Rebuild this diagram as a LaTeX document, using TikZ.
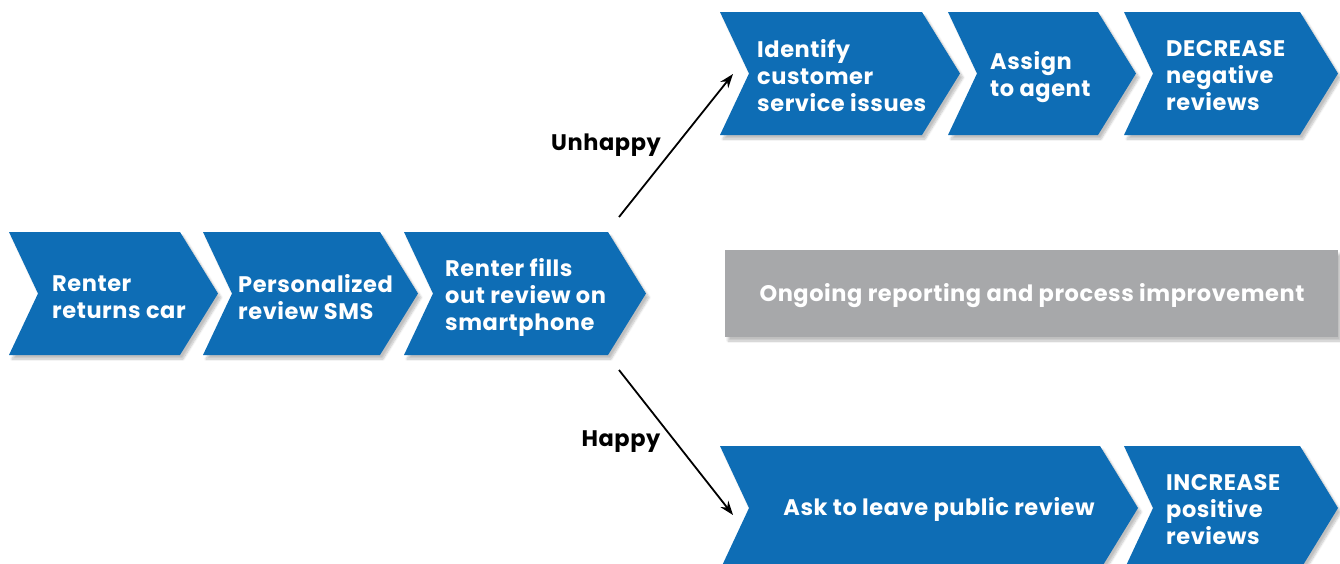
\documentclass[tikz,border=0pt]{standalone}
\usepackage{fontspec}
\setmainfont{Poppins}[LetterSpace=2.5]
\usetikzlibrary{arrows.meta,shadows.blur}
\definecolor{chevblue}{RGB}{14,109,181}
\definecolor{bargray}{RGB}{167,168,170}
\newcommand\mychev[4]{% x1 x2 ytop ybot
  \fill[chevblue,blur shadow={shadow xshift=3pt,shadow yshift=-4pt,shadow opacity=25,shadow blur steps=8}]
    (#1,#3) -- (#2,#3) -- ({#2+38},{(#3+#4)/2}) -- (#2,#4) -- (#1,#4) -- ({#1+29},{(#3+#4)/2}) -- cycle;}
\tikzset{
  chevtext/.style={text=white,align=left,anchor=west,inner sep=0pt,
    font=\fontsize{22.5}{27}\selectfont\bfseries},
  centertext/.style={text=white,inner sep=0pt,font=\fontsize{22.5}{27}\selectfont\bfseries},
  branchlabel/.style={text=black,inner sep=0pt,font=\fontsize{22.5}{27}\selectfont\bfseries},
  branch/.style={-{Stealth[length=14pt,width=10pt]},line width=1.8pt,black}
}
\begin{document}
\begin{tikzpicture}[x=1pt,y=-1pt]
\useasboundingbox (0,0) rectangle (1340,563);
% left row
\mychev{9}{180}{232}{355}
\mychev{203}{380}{232}{355}
\mychev{404}{608}{232}{355}
% top row
\mychev{720}{922}{12}{135}
\mychev{948}{1098}{12}{135}
\mychev{1124}{1300}{12}{135}
% bottom row
\mychev{720}{1100}{446}{570}
\mychev{1124}{1300}{446}{570}
% gray bar
\fill[bargray,blur shadow={shadow xshift=3pt,shadow yshift=-4pt,shadow opacity=25,shadow blur steps=8}] (725,250) rectangle (1338,337);
\node[centertext] (ongoing) at (1032,296) {Ongoing reporting and process improvement};
% texts
\node[chevtext] (renter) at (52,297) {Renter\\returns car};
\node[chevtext] (sms) at (238,297) {Personalized\\review SMS};
\node[chevtext] (fills) at (445,297) {Renter fills\\out review on\\smartphone};
\node[chevtext] (identify) at (757,76) {Identify\\customer\\service issues};
\node[chevtext] (assign) at (990,77) {Assign\\to agent};
\node[chevtext] (decrease) at (1166,76) {DECREASE\\negative\\reviews};
\node[centertext] (ask) at (939,509) {Ask to leave public review};
\node[chevtext] (increase) at (1166,510) {INCREASE\\positive\\reviews};
% branches
\coordinate (ustart) at (619,217);
\coordinate (uend) at (733,74);
\coordinate (hstart) at (619,370);
\coordinate (hend) at (733,515);
\draw[branch] (ustart) -- (uend);
\draw[branch] (hstart) -- (hend);
\node[branchlabel] (unhappy) at (606,145) {Unhappy};
\node[branchlabel] (happy) at (621,442) {Happy};
\end{tikzpicture}
\end{document}
